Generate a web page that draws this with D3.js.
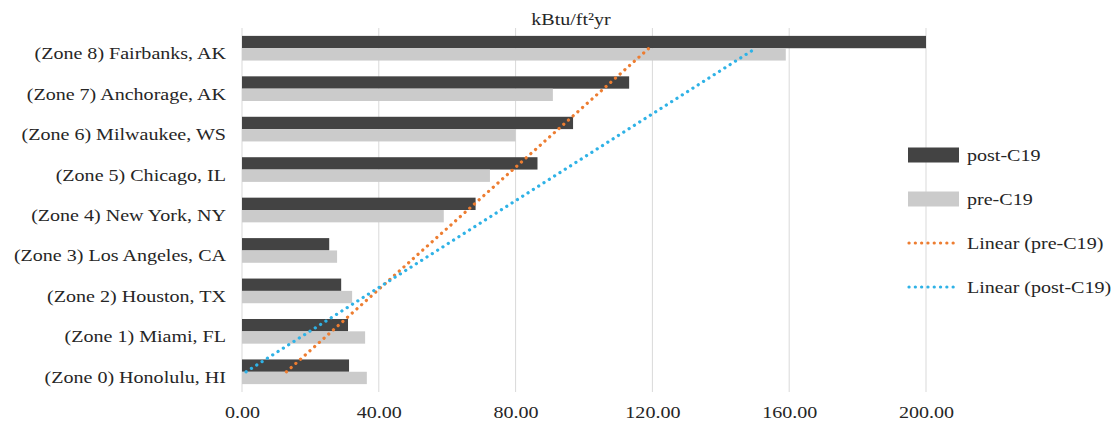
<!DOCTYPE html>
<html>
<head>
<meta charset="utf-8">
<script src="https://cdn.jsdelivr.net/npm/d3@7"></script>
<style>
  body { margin: 0; background: #fff; }
  svg text { font-family: "Liberation Serif", "Times New Roman", Times, "DejaVu Serif", serif !important; fill: #262626; }
</style>
</head>
<body>
<div id="chart"></div>
<script>
// zones from 0 (bottom) to 8 (top)
var cities = ["(Zone 0) Honolulu, HI", "(Zone 1) Miami, FL", "(Zone 2) Houston, TX",
  "(Zone 3) Los Angeles, CA", "(Zone 4) New York, NY", "(Zone 5) Chicago, IL",
  "(Zone 6) Milwaukee, WS", "(Zone 7) Anchorage, AK", "(Zone 8) Fairbanks, AK"];
var postC19 = [31.3, 31.0, 29.0, 25.5, 68.3, 86.4, 96.8, 113.2, 200.0];
var preC19 = [36.5, 36.0, 32.2, 27.8, 59.0, 72.5, 80.0, 90.9, 159.0];
var xTicks = [0, 40, 80, 120, 160, 200];
var unitLabel = "kBtu/ft\u00b2yr";

var width = 1116, height = 432;
var stretch = "scale(1.18,1)"; // text in the picture is a bit wide

var svg = d3.select("#chart").append("svg")
  .attr("width", width)
  .attr("height", height);

var x = d3.scaleLinear().domain([0, 200]).range([242, 926]);
var y = d3.scaleBand()
  .domain(cities.slice().reverse())
  .range([28, 392])
  .paddingInner(0.39)
  .paddingOuter(0.195);
var inner = d3.scaleBand().domain(["post", "pre"]).range([0, y.bandwidth()]);

// gridlines
svg.append("g").selectAll("line")
  .data(xTicks)
  .enter().append("line")
  .attr("x1", function(d) { return x(d); })
  .attr("x2", function(d) { return x(d); })
  .attr("y1", 28)
  .attr("y2", 392)
  .attr("stroke", "#d9d9d9")
  .attr("stroke-width", 1);

// bottom axis labels only
var xAxis = svg.append("g")
  .attr("transform", "translate(0,392)")
  .call(d3.axisBottom(x).tickValues(xTicks).tickFormat(d3.format(".2f")).tickSize(0).tickPadding(14));
xAxis.select(".domain").remove();
xAxis.attr("font-family", null);
xAxis.selectAll("text")
  .attr("font-size", 17)
  .attr("transform", stretch);

// category labels, sit a little below the band centre like the original
var yAxis = svg.append("g")
  .attr("transform", "translate(226,5)")
  .call(d3.axisLeft(y).tickSize(0).tickPadding(0));
yAxis.select(".domain").remove();
yAxis.attr("font-family", null);
yAxis.selectAll("text")
  .attr("font-size", 17)
  .attr("dy", "0.35em")
  .attr("transform", stretch);

var rows = cities.map(function(c, i) {
  return { city: c, post: postC19[i], pre: preC19[i] };
});

// bars
var colors = { post: "#434343", pre: "#cbcbcb" };
var groups = svg.append("g").selectAll("g")
  .data(rows)
  .enter().append("g")
  .attr("transform", function(d) { return "translate(0," + y(d.city) + ")"; });

groups.selectAll("rect")
  .data(function(d) { return ["post", "pre"].map(function(k) { return { key: k, value: d[k] }; }); })
  .enter().append("rect")
  .attr("x", x(0))
  .attr("y", function(d) { return inner(d.key); })
  .attr("width", function(d) { return x(d.value) - x(0); })
  .attr("height", inner.bandwidth())
  .attr("fill", function(d) { return colors[d.key]; });

// linear trendlines, category index 1..9 vs value
function trend(values) {
  var n = values.length;
  var xs = values.map(function(v, i) { return i + 1; });
  var mx = d3.mean(xs), my = d3.mean(values);
  var sxy = d3.sum(values, function(v, i) { return (xs[i] - mx) * (v - my); });
  var sxx = d3.sum(xs, function(k) { return (k - mx) * (k - mx); });
  var b = sxy / sxx, a = my - b * mx;
  return [{ city: cities[0], v: a + b * 1 }, { city: cities[n - 1], v: a + b * n }];
}

var line = d3.line()
  .x(function(d) { return x(Math.max(0, d.v)); })
  .y(function(d) { return y(d.city) + y.bandwidth() / 2; });

var trends = [
  { name: "Linear (pre-C19)", pts: trend(preC19), color: "#ed7d31" },
  { name: "Linear (post-C19)", pts: trend(postC19), color: "#2fb2e6" }
];

svg.append("g").selectAll("path")
  .data(trends)
  .enter().append("path")
  .attr("d", function(d) { return line(d.pts); })
  .attr("fill", "none")
  .attr("stroke", function(d) { return d.color; })
  .attr("stroke-width", 3.2)
  .attr("stroke-linecap", "round")
  .attr("stroke-dasharray", "0.1 6.2");

// unit title
svg.append("g")
  .attr("transform", "translate(571,25)")
  .append("text")
  .attr("text-anchor", "middle")
  .attr("font-size", 17)
  .attr("transform", stretch)
  .text(unitLabel);

// legend
var legend = svg.append("g").attr("transform", "translate(908,155)");
var items = [
  { name: "post-C19", type: "rect", color: colors.post },
  { name: "pre-C19", type: "rect", color: colors.pre },
  trends[0], trends[1]
];
items.forEach(function(it, i) {
  var g = legend.append("g").attr("transform", "translate(0," + (i * 44) + ")");
  if (it.type === "rect") {
    g.append("rect").attr("x", 0).attr("y", -7.5).attr("width", 51).attr("height", 15).attr("fill", it.color);
  } else {
    g.append("line").attr("x1", 1).attr("x2", 50).attr("y1", 0).attr("y2", 0)
      .attr("stroke", it.color).attr("stroke-width", 3.2)
      .attr("stroke-linecap", "round").attr("stroke-dasharray", "0.1 6.2");
  }
  g.append("g").attr("transform", "translate(59,0)")
    .append("text")
    .attr("dy", "0.35em")
    .attr("font-size", 17)
    .attr("transform", stretch)
    .text(it.name);
});
</script>
</body>
</html>
